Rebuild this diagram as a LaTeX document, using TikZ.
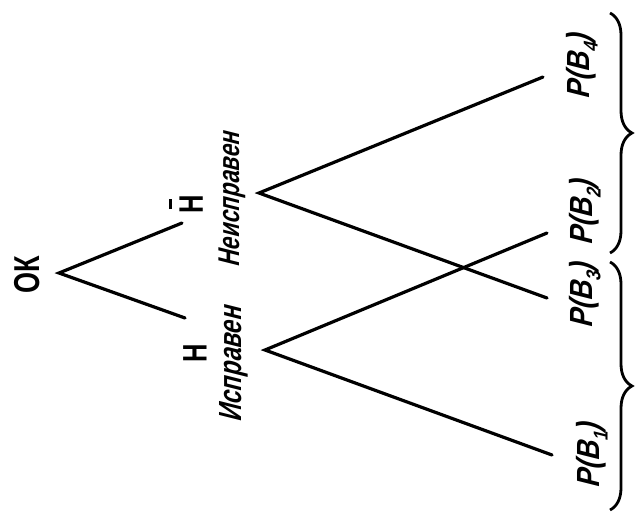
\documentclass[tikz,border=0pt]{standalone}
\usepackage{fontspec}
\usetikzlibrary{decorations.pathreplacing}
\newfontfamily\handup[FakeStretch=0.75]{Liberation Sans}
\newfontfamily\handit[FakeStretch=0.75,FakeSlant=0.25]{Liberation Sans}
\newfontfamily\handp[FakeStretch=0.85,FakeSlant=0.25]{Liberation Sans}
\newcommand\sbx[1]{\raisebox{-0.25em}{\fontsize{20}{22}\selectfont #1}}
\begin{document}
\begin{tikzpicture}[x=1pt,y=-1pt,
  branch/.style={line width=3.2pt,line cap=round},
  lbl/.style={rotate=90,inner sep=0pt,anchor=center,font=\bfseries},
  brc/.style={line width=2.8pt,decorate,decoration={brace,amplitude=22pt}}]
\useasboundingbox (0,0) rectangle (636,513);
\coordinate (vOK) at (59,273);
\coordinate (eU) at (182,223);
\coordinate (eL) at (185,318);
\coordinate (vNB) at (259,193);
\coordinate (vIS) at (265,350);
\coordinate (b4) at (543,77);
\coordinate (b2) at (547,233);
\coordinate (b3) at (547,298);
\coordinate (b1) at (552,455);
\draw[branch] (eU) -- (vOK) -- (eL);
\draw[branch] (b4) -- (vNB) -- (b3);
\draw[branch] (b2) -- (vIS) -- (b1);
\node[lbl] (ok) at (27,275) {\handup\bfseries\fontsize{36}{40}\selectfont ОК};
\node[lbl] (h) at (195,353) {\handup\bfseries\fontsize{34}{38}\selectfont Н};
\node[lbl] (hb) at (186,204) {\handup\bfseries\fontsize{34}{38}\selectfont \shortstack[c]{\rule{10pt}{2.4pt}\\[5pt]Н}};
\node[lbl] (isp) at (234,365) {\handit\bfseries\fontsize{32}{36}\selectfont Исправен};
\node[lbl] (neisp) at (232,200) {\handit\bfseries\fontsize{30}{34}\selectfont Неисправен};
\node[lbl] (p4) at (582,67) {\handp\bfseries\fontsize{32}{36}\selectfont P(B\sbx{4})};
\node[lbl] (p2) at (585,213) {\handp\bfseries\fontsize{32}{36}\selectfont P(B\sbx{2})};
\node[lbl] (p3) at (585,296) {\handp\bfseries\fontsize{32}{36}\selectfont P(B\sbx{3})};
\node[lbl] (p1) at (592,456) {\handp\bfseries\fontsize{32}{36}\selectfont P(B\sbx{1})};
\coordinate (u1) at (610,13);
\coordinate (u2) at (610,253);
\coordinate (l1) at (610,262);
\coordinate (l2) at (610,510);
\draw[brc] (u1) -- (u2);
\draw[brc] (l1) -- (l2);
\end{tikzpicture}
\end{document}
